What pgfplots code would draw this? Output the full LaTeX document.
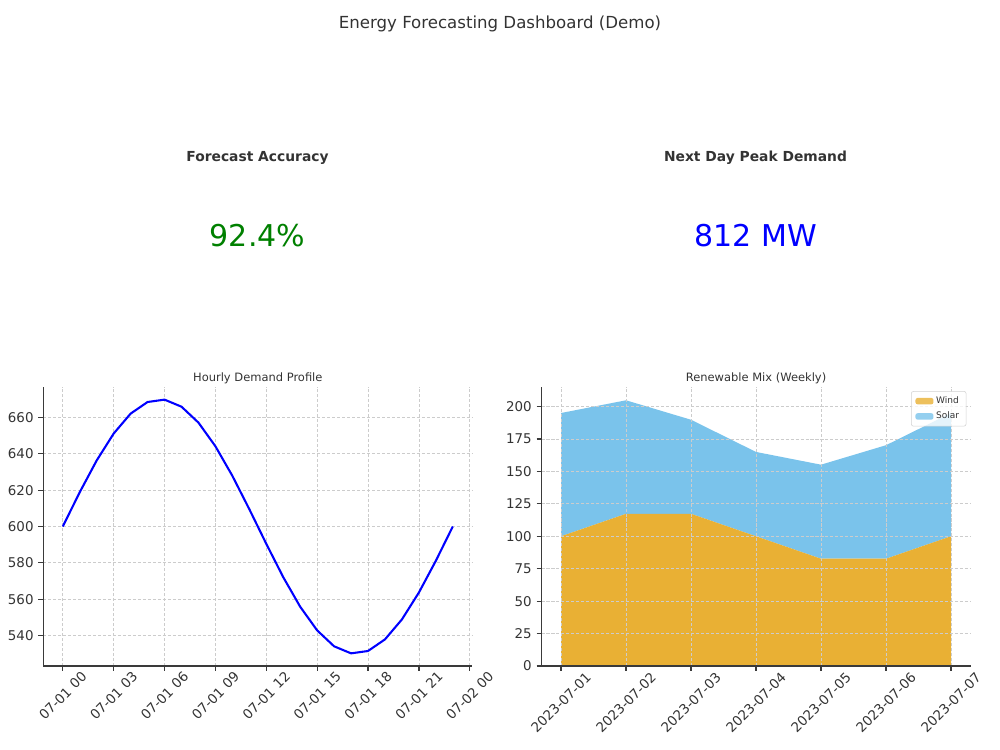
\documentclass[border=0pt]{standalone}
\usepackage{pgfplots}
\pgfplotsset{compat=1.18}
\usepackage{pgfplotstable}
\usepackage{fontspec}
\setmainfont{DejaVu Sans}

\definecolor{txt}{HTML}{333333}
\definecolor{spine}{HTML}{3A3A3A}
\definecolor{gridc}{HTML}{CCCCCC}
\definecolor{windc}{HTML}{E9B034}
\definecolor{solarc}{HTML}{7AC3EB}
\definecolor{kpigreen}{HTML}{008000}
\definecolor{kpiblue}{HTML}{0000FF}
\definecolor{lineblue}{HTML}{0000FF}

% Hourly demand (MW)
\pgfplotstableread{
h demand
0 600.00
1 618.89
2 636.37
3 651.16
4 662.15
5 668.54
6 669.84
7 665.96
8 657.19
9 644.18
10 627.89
11 609.53
12 590.47
13 572.11
14 555.82
15 542.81
16 534.04
17 530.16
18 531.46
19 537.85
20 548.84
21 563.63
22 581.11
23 600.00
}\demand

% Weekly renewable generation
\pgfplotstableread{
day wind solar
0 100.00 95.0
1 117.32 87.5
2 117.32 72.5
3 100.00 65.0
4 82.68 72.5
5 82.68 87.5
6 100.00 95.0
}\mix

\pgfplotsset{
  panel/.style={
    scale only axis,
    width=310.04pt, height=201.63pt,
    anchor=south west,
    axis lines=left,
    axis line style={-, spine, line width=0.9pt},
    tick align=outside,
    major tick length=3.5pt,
    tick style={spine, line width=0.9pt},
    grid=major,
    major grid style={gridc, line width=0.5pt, dash pattern=on 2.2pt off 1.4pt},
    ticklabel style={font=\fontsize{9.7}{11}\selectfont, text=txt},
    /pgf/number format/assume math mode=true,
    every axis title/.style={at={(0.5,1)}, anchor=base, yshift=4.3pt,
      font=\fontsize{8.3}{10}\selectfont, text=txt},
  },
}

\begin{document}
\begin{tikzpicture}
\path[use as bounding box] (0,0) rectangle (722.7pt,542.03pt);

% Figure title and headline figures
\node[anchor=base, font=\fontsize{12}{14}\selectfont, text=txt]
  at (361.35pt,521.07pt) {Energy Forecasting Dashboard (Demo)};
\node[anchor=base, font=\fontsize{10}{12}\selectfont\bfseries, text=txt]
  at (186.10pt,424.95pt) {Forecast Accuracy};
\node[anchor=base, font=\fontsize{21.7}{26}\selectfont, text=kpigreen]
  at (186.10pt,363.52pt) {92.4\%};
\node[anchor=base, font=\fontsize{10}{12}\selectfont\bfseries, text=txt]
  at (546.00pt,424.95pt) {Next Day Peak Demand};
\node[anchor=base, font=\fontsize{21.7}{26}\selectfont, text=kpiblue]
  at (546.00pt,363.52pt) {812 MW};

% Hourly demand profile
\begin{axis}[panel,
  at={(31.29pt,60.71pt)},
  title={Hourly Demand Profile},
  xmin=-1.15, xmax=24.15,
  ymin=523.2, ymax=676.8,
  xtick={0,3,...,24},
  xticklabels={07-01 00,07-01 03,07-01 06,07-01 09,07-01 12,07-01 15,07-01 18,07-01 21,07-02 00},
  ytick={540,560,...,660},
  xticklabel style={yshift=-18pt, rotate=45, anchor=center},
]
\addplot[lineblue, line width=1.5pt, mark=none] table[x=h, y=demand] {\demand};
\end{axis}

% Weekly renewable mix (stacked areas)
\begin{axis}[panel,
  at={(391.34pt,60.71pt)},
  title={Renewable Mix (Weekly)},
  axis on top,
  stack plots=y,
  xmin=-0.3, xmax=6.3,
  ymin=0, ymax=215.06,
  xtick={0,...,6},
  xticklabels={2023-07-01,2023-07-02,2023-07-03,2023-07-04,2023-07-05,2023-07-06,2023-07-07},
  ytick={0,25,...,200},
  xticklabel style={yshift=-23pt, rotate=45, anchor=center},
  legend style={at={(1,1)}, anchor=north east, xshift=-3pt, yshift=-3pt,
    font=\fontsize{6.5}{7.5}\selectfont, text=txt, draw=gray!35, rounded corners=1.5pt,
    fill=white, fill opacity=0.8, text opacity=1, inner xsep=3pt, inner ysep=1.8pt,
    row sep=0.6pt, cells={anchor=west, inner xsep=3pt}},
  legend image code/.code={\fill[#1] (0pt,-2.3pt) rectangle (13pt,2.3pt);},
]
\addplot[draw=none, fill=windc] table[x=day, y=wind] {\mix} \closedcycle;
\addplot[draw=none, fill=solarc] table[x=day, y=solar] {\mix} \closedcycle;
\legend{Wind, Solar}
\end{axis}
\end{tikzpicture}
\end{document}
